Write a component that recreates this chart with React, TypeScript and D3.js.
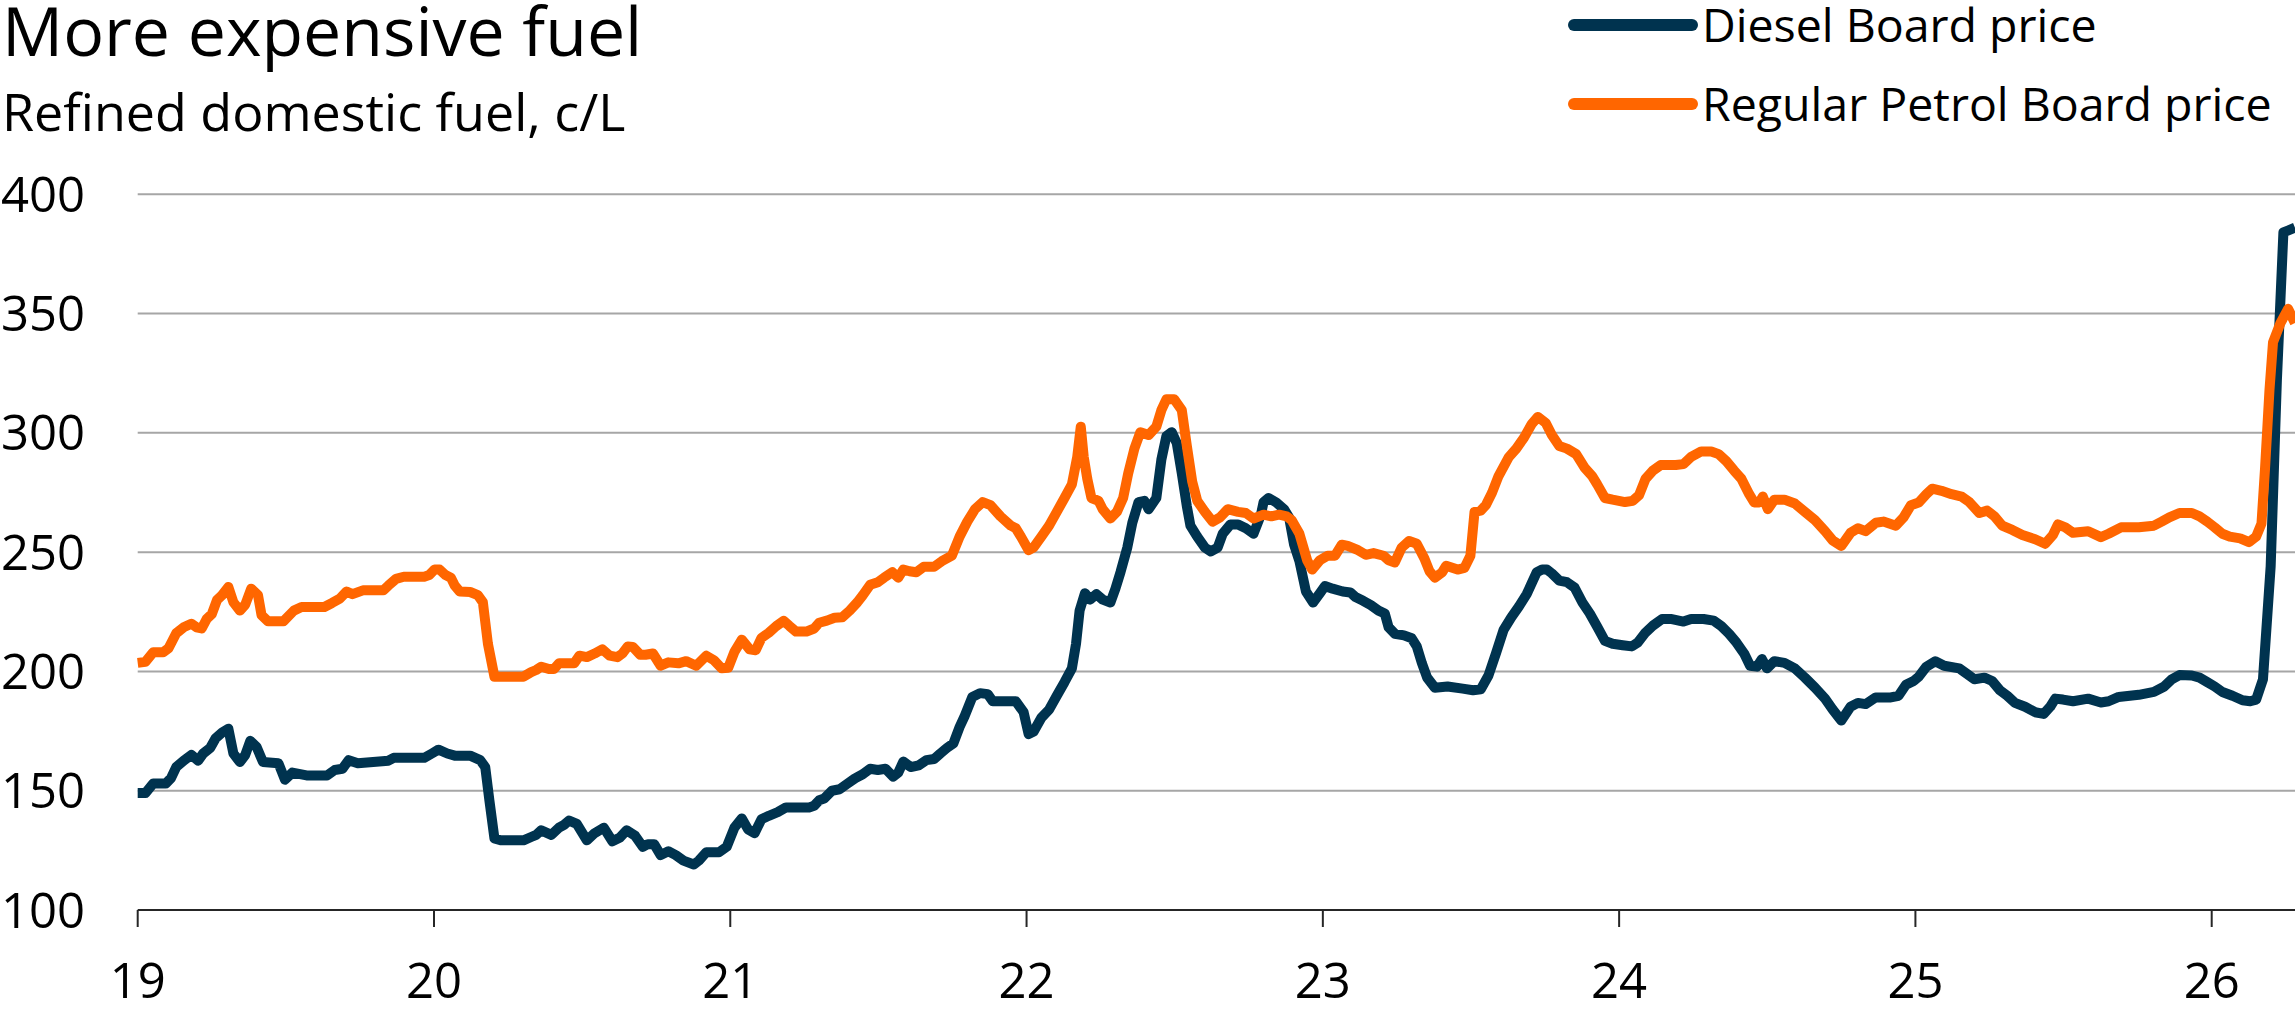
import React from "react";
import * as d3 from "d3";

// ---- Data (decimal year, cents per litre) ----
const yTicks = [100, 150, 200, 250, 300, 350, 400];
const xTickYears = [2019, 2020, 2021, 2022, 2023, 2024, 2025, 2026];
const xTickLabels = ["19", "20", "21", "22", "23", "24", "25", "26"];
const seriesNames = ["Diesel Board price", "Regular Petrol Board price"];

const dieselT = [
  2019.0, 2019.026, 2019.052, 2019.095, 2019.112, 2019.13, 2019.155, 2019.181, 2019.204, 2019.221,
  2019.245, 2019.263, 2019.285, 2019.306, 2019.323, 2019.345, 2019.363, 2019.38, 2019.401, 2019.423,
  2019.475, 2019.497, 2019.522, 2019.57, 2019.639, 2019.665, 2019.691, 2019.712, 2019.743, 2019.846,
  2019.864, 2019.967, 2019.993, 2020.015, 2020.045, 2020.07, 2020.122, 2020.156, 2020.173, 2020.187,
  2020.204, 2020.225, 2020.302, 2020.328, 2020.345, 2020.362, 2020.396, 2020.422, 2020.439, 2020.456,
  2020.482, 2020.516, 2020.542, 2020.573, 2020.602, 2020.628, 2020.65, 2020.679, 2020.705, 2020.722,
  2020.743, 2020.765, 2020.791, 2020.816, 2020.842, 2020.877, 2020.894, 2020.919, 2020.962, 2020.988,
  2021.014, 2021.039, 2021.06, 2021.082, 2021.105, 2021.13, 2021.16, 2021.188, 2021.266, 2021.283,
  2021.3, 2021.317, 2021.343, 2021.369, 2021.395, 2021.421, 2021.447, 2021.472, 2021.498, 2021.524,
  2021.55, 2021.567, 2021.584, 2021.609, 2021.636, 2021.662, 2021.688, 2021.709, 2021.731, 2021.753,
  2021.774, 2021.791, 2021.817, 2021.843, 2021.869, 2021.886, 2021.964, 2021.99, 2022.007, 2022.024,
  2022.05, 2022.076, 2022.102, 2022.128, 2022.153, 2022.167, 2022.179, 2022.197, 2022.214, 2022.236,
  2022.257, 2022.283, 2022.3, 2022.317, 2022.34, 2022.357, 2022.378, 2022.398, 2022.412, 2022.438,
  2022.455, 2022.472, 2022.49, 2022.507, 2022.524, 2022.541, 2022.553, 2022.576, 2022.602, 2022.622,
  2022.645, 2022.662, 2022.688, 2022.714, 2022.74, 2022.766, 2022.791, 2022.8, 2022.817, 2022.843,
  2022.869, 2022.886, 2022.903, 2022.921, 2022.943, 2022.967, 2022.99, 2023.007, 2023.033, 2023.067,
  2023.093, 2023.11, 2023.136, 2023.162, 2023.188, 2023.209, 2023.222, 2023.243, 2023.274, 2023.3,
  2023.317, 2023.334, 2023.352, 2023.378, 2023.421, 2023.472, 2023.507, 2023.533, 2023.559, 2023.584,
  2023.61, 2023.636, 2023.662, 2023.688, 2023.705, 2023.722, 2023.74, 2023.756, 2023.773, 2023.798,
  2023.824, 2023.85, 2023.876, 2023.901, 2023.927, 2023.952, 2023.978, 2024.012, 2024.043, 2024.063,
  2024.089, 2024.114, 2024.145, 2024.174, 2024.217, 2024.243, 2024.285, 2024.319, 2024.345, 2024.371,
  2024.396, 2024.422, 2024.442, 2024.465, 2024.482, 2024.499, 2024.524, 2024.558, 2024.593, 2024.627,
  2024.661, 2024.695, 2024.721, 2024.75, 2024.781, 2024.806, 2024.832, 2024.866, 2024.917, 2024.943,
  2024.968, 2024.994, 2025.011, 2025.037, 2025.067, 2025.097, 2025.148, 2025.174, 2025.199, 2025.233,
  2025.259, 2025.285, 2025.31, 2025.336, 2025.37, 2025.404, 2025.433, 2025.455, 2025.472, 2025.498,
  2025.532, 2025.583, 2025.626, 2025.652, 2025.686, 2025.754, 2025.805, 2025.84, 2025.865, 2025.891,
  2025.933, 2025.959, 2025.985, 2026.01, 2026.036, 2026.07, 2026.104, 2026.13, 2026.15, 2026.173,
  2026.199, 2026.22, 2026.242, 2026.281,
];
const dieselV = [
  149, 149, 153, 153, 155.2, 159.9, 162.6, 165, 162.6, 165.6,
  168, 172, 174.4, 176, 165.6, 162, 165, 170.9, 168.4, 162,
  161.5, 154.6, 157.6, 156.4, 156.4, 158.7, 159.2, 162.8, 161.5, 162.6,
  163.8, 163.8, 165.6, 167.2, 165.6, 164.7, 164.7, 162.8, 159.9, 146,
  130, 129.2, 129.2, 130.6, 131.5, 133.4, 131.5, 134.5, 135.7, 137.5,
  136.1, 129.2, 132.2, 134.5, 128.8, 130.4, 133.4, 131.1, 126.5, 127.6,
  127.6, 123, 124.6, 123, 120.7, 119.1, 120.7, 124.2, 124.2, 126.5,
  134.5, 138.4, 133.8, 132.2, 138, 139.5, 141, 143, 143, 143.7,
  146, 146.7, 150, 150.6, 152.9, 155.2, 156.9, 159.2, 158.7, 159.2,
  155.9, 157.6, 162.2, 159.9, 160.6, 162.8, 163.3, 165.6, 167.9, 169.8,
  176.7, 181.3, 189.3, 190.9, 190.5, 187.5, 187.5, 182.9, 173.7, 174.8,
  180.6, 184, 189.8, 195.5, 201.3, 211.6, 225.5, 232.8, 230.1, 232.4,
  230.1, 228.9, 234.7, 241.6, 251.9, 262.3, 271, 271.5, 268, 272.7,
  288.8, 298.7, 300.3, 295.7, 283, 269.2, 261.1, 256.5, 251.9, 250.3,
  251.9, 257.7, 261.6, 261.6, 260, 257.7, 265.7, 271, 272.7, 270.8,
  268, 264.6, 253.1, 246.2, 233.5, 228.9, 232.8, 235.8, 234.7, 233.5,
  233.1, 231.2, 229.6, 227.8, 225.5, 224.3, 218.5, 215.8, 215.1, 213.9,
  210.5, 203.6, 197.4, 193.2, 193.7, 192.8, 192.1, 192.5, 198.3, 207.5,
  217.4, 222.7, 227.3, 232.4, 237, 241.6, 242.7, 242.7, 241.1, 238.1,
  237.4, 235.1, 228.9, 224.3, 218.5, 212.8, 211.6, 211, 210.5, 212.1,
  216.3, 219.2, 222, 222, 220.9, 222, 222, 221.3, 219, 215.8,
  212.1, 207.5, 202.4, 202, 205.2, 201.3, 204.3, 203.6, 201.3, 197.4,
  193.2, 188.6, 184, 179.4, 185.2, 186.8, 186.3, 189.1, 189.1, 189.8,
  194.4, 196, 197.8, 202, 204.3, 202.4, 201.3, 199, 196.7, 197.4,
  196, 192.1, 189.8, 186.8, 185.2, 182.9, 182.2, 185.2, 188.6, 188.2,
  187.5, 188.6, 187, 187.5, 189.3, 190.2, 191.4, 193.7, 196.7, 198.5,
  198.3, 197.4, 195.5, 193.7, 191.4, 189.8, 187.9, 187.5, 188.2, 196.7,
  244, 322, 384, 386,
];

const petrolT = [
  2019.0, 2019.026, 2019.052, 2019.086, 2019.104, 2019.13, 2019.155, 2019.181, 2019.199, 2019.216,
  2019.233, 2019.25, 2019.268, 2019.285, 2019.306, 2019.323, 2019.345, 2019.363, 2019.383, 2019.406,
  2019.418, 2019.44, 2019.492, 2019.527, 2019.553, 2019.63, 2019.656, 2019.682, 2019.705, 2019.725,
  2019.76, 2019.829, 2019.846, 2019.872, 2019.898, 2019.967, 2019.984, 2020.002, 2020.019, 2020.039,
  2020.057, 2020.07, 2020.087, 2020.122, 2020.148, 2020.165, 2020.182, 2020.204, 2020.302, 2020.328,
  2020.345, 2020.362, 2020.388, 2020.405, 2020.422, 2020.473, 2020.491, 2020.516, 2020.542, 2020.568,
  2020.593, 2020.619, 2020.636, 2020.654, 2020.671, 2020.696, 2020.714, 2020.739, 2020.765, 2020.791,
  2020.825, 2020.851, 2020.885, 2020.919, 2020.945, 2020.971, 2020.993, 2021.014, 2021.039, 2021.065,
  2021.086, 2021.105, 2021.13, 2021.155, 2021.18, 2021.2, 2021.222, 2021.257, 2021.283, 2021.3,
  2021.326, 2021.352, 2021.378, 2021.403, 2021.429, 2021.447, 2021.472, 2021.498, 2021.519, 2021.547,
  2021.567, 2021.584, 2021.605, 2021.628, 2021.653, 2021.688, 2021.714, 2021.748, 2021.774, 2021.8,
  2021.826, 2021.852, 2021.878, 2021.912, 2021.947, 2021.964, 2021.981, 2022.007, 2022.024, 2022.05,
  2022.076, 2022.102, 2022.128, 2022.153, 2022.171, 2022.183, 2022.193, 2022.205, 2022.219, 2022.243,
  2022.257, 2022.283, 2022.305, 2022.326, 2022.343, 2022.364, 2022.384, 2022.412, 2022.438, 2022.455,
  2022.472, 2022.498, 2022.524, 2022.541, 2022.559, 2022.576, 2022.602, 2022.628, 2022.653, 2022.679,
  2022.714, 2022.74, 2022.766, 2022.8, 2022.826, 2022.852, 2022.878, 2022.895, 2022.921, 2022.947,
  2022.964, 2022.99, 2023.016, 2023.041, 2023.064, 2023.084, 2023.119, 2023.145, 2023.171, 2023.205,
  2023.222, 2023.243, 2023.266, 2023.291, 2023.317, 2023.343, 2023.36, 2023.378, 2023.403, 2023.416,
  2023.455, 2023.478, 2023.498, 2023.512, 2023.533, 2023.55, 2023.571, 2023.593, 2023.628, 2023.653,
  2023.679, 2023.705, 2023.726, 2023.752, 2023.773, 2023.798, 2023.824, 2023.855, 2023.884, 2023.909,
  2023.926, 2023.952, 2023.978, 2024.02, 2024.046, 2024.067, 2024.089, 2024.114, 2024.14, 2024.191,
  2024.217, 2024.243, 2024.277, 2024.311, 2024.336, 2024.362, 2024.388, 2024.413, 2024.439, 2024.456,
  2024.473, 2024.485, 2024.502, 2024.524, 2024.558, 2024.593, 2024.627, 2024.661, 2024.695, 2024.721,
  2024.75, 2024.781, 2024.806, 2024.832, 2024.866, 2024.892, 2024.934, 2024.96, 2024.985, 2025.011,
  2025.037, 2025.057, 2025.088, 2025.122, 2025.156, 2025.182, 2025.216, 2025.242, 2025.267, 2025.293,
  2025.327, 2025.361, 2025.404, 2025.438, 2025.464, 2025.481, 2025.506, 2025.532, 2025.583, 2025.626,
  2025.652, 2025.694, 2025.754, 2025.805, 2025.831, 2025.857, 2025.891, 2025.933, 2025.959, 2025.985,
  2026.01, 2026.036, 2026.061, 2026.096, 2026.126, 2026.15, 2026.168, 2026.18, 2026.195, 2026.207,
  2026.232, 2026.258, 2026.281,
];
const petrolV = [
  203.6, 204, 208, 208, 209.7, 216, 218.5, 220, 218.5, 218,
  222, 224, 230, 232, 235.4, 229, 225.5, 228, 234.7, 232,
  223.6, 221, 221, 225.5, 227, 227, 228.7, 230.5, 233.5, 232.4,
  234, 234, 236, 238.8, 239.7, 239.7, 240.4, 242.7, 242.7, 240.4,
  239.3, 236, 233.5, 233.3, 232, 229, 211.6, 197.8, 197.8, 199.7,
  200.6, 202, 201, 201, 203.4, 203.4, 206.6, 206, 207.5, 209.3,
  206.6, 206, 207.5, 210.5, 210.3, 207, 207, 207.5, 202.4, 203.8,
  203.4, 204.3, 202.4, 206.6, 204.7, 201.3, 201.5, 208.2, 213.3, 209.3,
  208.9, 214, 216.2, 219, 221.2, 219, 216.7, 216.7, 218, 220.4,
  221.3, 222.5, 222.7, 225.5, 229, 231.9, 236.3, 237.4, 239.3, 241.6,
  239.3, 242.7, 242, 241.6, 243.9, 243.9, 246.2, 248.5, 256.5, 262.8,
  268, 271, 269.7, 265, 261.1, 260, 256.5, 250.8, 252, 256.5,
  261.1, 266.9, 272.7, 278.4, 289.9, 302.6, 289.9, 280.7, 272.7, 271.5,
  268, 264.1, 266.9, 272.7, 283, 293.4, 300.3, 299.1, 302.6, 309.5,
  314.1, 314.1, 309.5, 294.5, 279.6, 271.5, 266.9, 262.8, 264.6, 268,
  266.9, 266.4, 264.1, 265.7, 265, 265.7, 265, 263.4, 257.7, 246.6,
  242.7, 246.6, 248.5, 248.5, 253.1, 252.6, 250.8, 248.9, 249.6, 248.5,
  246.6, 245.7, 251.9, 254.7, 253.5, 247.3, 242, 239.3, 241.6, 244.3,
  242.7, 243.4, 248.5, 266.9, 267.4, 269.7, 274.9, 281.9, 289.9, 293.4,
  298, 303.7, 306.7, 304.2, 299.1, 294.5, 293.4, 291.1, 285.3, 281.9,
  278.4, 272.7, 272, 271, 271.5, 273.8, 280.7, 284.2, 286.5, 286.5,
  286.9, 289.9, 292.2, 292.2, 291.1, 288.1, 284.2, 280.7, 274.3, 270.8,
  270.8, 273.3, 268, 272, 272, 270.4, 266.9, 263.4, 258.8, 254.9,
  252.6, 258.1, 260, 258.8, 262.3, 262.8, 261.1, 264.6, 269.7, 270.8,
  274.3, 276.6, 275.7, 274.3, 273.3, 271, 266.4, 267.4, 265, 261.1,
  259.3, 257.2, 255.4, 253.5, 257.2, 261.6, 260.4, 258.1, 258.8, 256.3,
  257.7, 260.4, 260.4, 261.1, 262.8, 264.6, 266.4, 266.4, 265, 262.8,
  260.4, 257.7, 256.5, 255.8, 254.2, 256.5, 262, 285, 318, 338,
  346, 352, 346,
];

const DIESEL_COLOR = "#00334F";
const PETROL_COLOR = "#FF6600";
const FONT = "'Open Sans', 'Noto Sans', sans-serif";

export default function App() {
  const W = 2295;
  const H = 1010;
  const x = d3.scaleLinear().domain([2019, 2026]).range([137.7, 2211.7]);
  const y = d3.scaleLinear().domain([100, 400]).range([910, 194.3]);
  const xEnd = W;

  const line = d3
    .line<[number, number]>()
    .x((d) => x(d[0]))
    .y((d) => y(d[1]));

  const dieselData: [number, number][] = dieselT.map((t, i) => [t, dieselV[i]]);
  const petrolData: [number, number][] = petrolT.map((t, i) => [t, petrolV[i]]);

  return (
    <div style={{ position: "absolute", left: 0, top: 0 }}>
      <svg width={W} height={H} style={{ display: "block", background: "#fff" }} fontFamily={FONT}>
        <text x={2} y={56} fontSize={68} fill="#000">More expensive fuel</text>
        <text x={2} y={131} fontSize={52} fill="#000">Refined domestic fuel, c/L</text>

        {/* legend */}
        {seriesNames.map((name, i) => (
          <g key={name}>
            <line
              x1={1574}
              x2={1692}
              y1={25 + i * 79}
              y2={25 + i * 79}
              stroke={i === 0 ? DIESEL_COLOR : PETROL_COLOR}
              strokeWidth={12}
              strokeLinecap="round"
            />
            <text x={1702} y={42 + i * 79} fontSize={46.5} fill="#000">
              {name}
            </text>
          </g>
        ))}

        {/* gridlines */}
        {yTicks.filter((v) => v > 100).map((v) => (
          <line key={v} x1={x(2019)} x2={xEnd} y1={y(v)} y2={y(v)} stroke="#A6A6A6" strokeWidth={2} />
        ))}
        {/* y labels */}
        {yTicks.map((v) => (
          <text key={v} x={85} y={y(v) + 17.5} fontSize={49} textAnchor="end" fill="#000">
            {v}
          </text>
        ))}

        {/* x axis */}
        <line x1={x(2019)} x2={xEnd} y1={y(100)} y2={y(100)} stroke="#262626" strokeWidth={2} />
        {xTickYears.map((t, i) => (
          <g key={t}>
            <line x1={x(t)} x2={x(t)} y1={y(100)} y2={y(100) + 17} stroke="#262626" strokeWidth={2} />
            <text x={x(t)} y={998} fontSize={49} textAnchor="middle" fill="#000">
              {xTickLabels[i]}
            </text>
          </g>
        ))}

        {/* series */}
        <path d={line(dieselData) || ""} fill="none" stroke={DIESEL_COLOR} strokeWidth={10} strokeLinejoin="round" />
        <path d={line(petrolData) || ""} fill="none" stroke={PETROL_COLOR} strokeWidth={10} strokeLinejoin="round" />
      </svg>
    </div>
  );
}
